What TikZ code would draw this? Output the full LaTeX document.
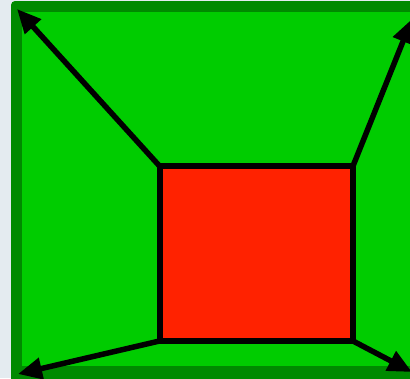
\documentclass[tikz,border=0pt]{standalone}
\usetikzlibrary{arrows.meta}
\definecolor{pane}{HTML}{E4EBF0}
\definecolor{darkgrass}{HTML}{008A00}
\definecolor{grass}{HTML}{00CC00}
\definecolor{brick}{HTML}{FF2200}

\begin{document}
\begin{tikzpicture}[x=1pt,y=-1pt,>={Triangle[length=24pt,width=21pt]},
  pull/.style={line width=5.5pt,->}]
  \useasboundingbox[fill=pane] (0,0) rectangle (410,378);

  % frame and floor
  \begin{scope}
    \clip (0,0) rectangle (410,378);
    \fill[darkgrass,rounded corners=4pt] (11,1) rectangle (440,392);
    \fill[grass] (22,12) rectangle (440,365.5);
  \end{scope}

  % outer corners
  \coordinate (tl) at (17,9);
  \coordinate (tr) at (412,19);
  \coordinate (bl) at (18,374);
  \coordinate (br) at (412,372);

  \node[draw,line width=6pt,fill=brick,inner sep=0pt,outer sep=0pt,
    minimum width=193.5pt,minimum height=175pt] (room) at (256.25,253.5) {};

  \draw[pull] (room.north west) -- (tl);
  \draw[pull] (room.north east) -- (tr);
  \draw[pull] (room.south west) -- (bl);
  \draw[pull] (room.south east) -- (br);
\end{tikzpicture}
\end{document}
